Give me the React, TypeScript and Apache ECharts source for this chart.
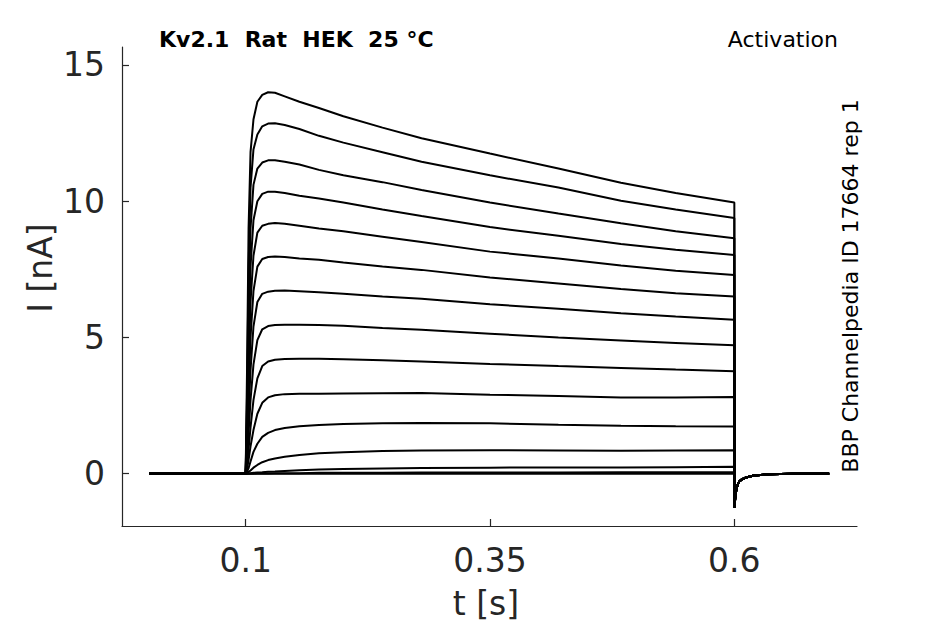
import React, { useEffect, useRef } from "react";
import * as echarts from "echarts";

// Sample times (s) during the pre-step baseline and the depolarising step
const stepTimes = [
  0.0012, 0.1, 0.1015, 0.103, 0.105, 0.108, 0.112, 0.117, 0.123, 0.13, 0.14,
  0.155, 0.175, 0.2, 0.24, 0.28, 0.35, 0.42, 0.484, 0.54, 0.6,
];

// Sample times (s) of the tail after repolarisation
const tailTimes = [0.6001, 0.601, 0.602, 0.6035, 0.605, 0.608, 0.612, 0.62, 0.635, 0.66, 0.697];
const tailValues = [-1.26, -0.85, -0.6, -0.4, -0.29, -0.2, -0.14, -0.07, -0.02, 0, 0];

// Current (nA) of each sweep at stepTimes
const trace1 = [0, 0, 4.0, 9.0, 11.8, 13.0, 13.65, 13.9, 14.0, 13.98, 13.85, 13.65, 13.42, 13.12, 12.7, 12.31, 11.75, 11.2, 10.68, 10.3, 9.95];
const trace2 = [0, 0, 3.0, 7.5, 10.5, 11.9, 12.45, 12.75, 12.85, 12.86, 12.8, 12.65, 12.4, 12.15, 11.8, 11.45, 10.95, 10.5, 10.02, 9.7, 9.38];
const trace3 = [0, 0, 2.5, 6.0, 9.0, 10.6, 11.2, 11.42, 11.5, 11.5, 11.45, 11.35, 11.15, 10.95, 10.7, 10.41, 9.95, 9.55, 9.19, 8.9, 8.64];
const trace4 = [0, 0, 2.0, 4.8, 7.6, 9.3, 10.0, 10.27, 10.35, 10.35, 10.3, 10.2, 10.1, 9.95, 9.7, 9.46, 9.05, 8.73, 8.43, 8.22, 8.03];
const trace5 = [0, 0, 1.6, 3.8, 6.3, 8.0, 8.85, 9.1, 9.17, 9.2, 9.17, 9.1, 9.0, 8.9, 8.7, 8.5, 8.15, 7.9, 7.64, 7.45, 7.29];
const trace6 = [0, 0, 1.2, 2.9, 5.0, 6.7, 7.6, 7.88, 7.95, 7.97, 7.95, 7.9, 7.85, 7.75, 7.6, 7.48, 7.2, 6.98, 6.78, 6.62, 6.5];
const trace7 = [0, 0, 0.9, 2.2, 3.8, 5.4, 6.3, 6.6, 6.68, 6.71, 6.72, 6.7, 6.66, 6.6, 6.5, 6.42, 6.22, 6.05, 5.89, 5.77, 5.65];
const trace8 = [0, 0, 0.6, 1.5, 2.7, 4.0, 4.9, 5.3, 5.42, 5.46, 5.47, 5.47, 5.46, 5.43, 5.35, 5.28, 5.14, 5.0, 4.89, 4.8, 4.71];
const trace9 = [0, 0, 0.35, 0.9, 1.7, 2.7, 3.5, 3.95, 4.12, 4.18, 4.21, 4.22, 4.22, 4.2, 4.16, 4.12, 4.03, 3.95, 3.88, 3.82, 3.76];
const trace10 = [0, 0, 0.2, 0.5, 1.0, 1.6, 2.2, 2.6, 2.8, 2.88, 2.92, 2.93, 2.93, 2.94, 2.95, 2.96, 2.9, 2.85, 2.8, 2.8, 2.81];
const trace11 = [0, 0, 0.08, 0.2, 0.45, 0.8, 1.1, 1.35, 1.5, 1.6, 1.68, 1.74, 1.79, 1.82, 1.85, 1.86, 1.85, 1.8, 1.76, 1.74, 1.73];
const trace12 = [0, 0, 0.02, 0.06, 0.12, 0.22, 0.32, 0.42, 0.5, 0.56, 0.62, 0.69, 0.75, 0.79, 0.83, 0.85, 0.86, 0.85, 0.84, 0.85, 0.86];
const trace13 = [0, 0, 0, 0.01, 0.02, 0.03, 0.04, 0.05, 0.07, 0.08, 0.1, 0.13, 0.15, 0.17, 0.19, 0.21, 0.22, 0.23, 0.23, 0.24, 0.25];
const trace14 = [0, 0, 0, 0, 0, 0, 0.01, 0.01, 0.01, 0.02, 0.02, 0.02, 0.03, 0.03, 0.03, 0.04, 0.04, 0.04, 0.05, 0.05, 0.05];
const trace15 = [0, 0, 0, 0, 0, 0, 0, 0, 0, 0, 0, 0, 0, 0, 0, 0, 0, 0, 0, 0, 0];

const traces = [trace1, trace2, trace3, trace4, trace5, trace6, trace7, trace8, trace9, trace10, trace11, trace12, trace13, trace14, trace15];

const xTicks = [0.1, 0.35, 0.6];
const yTicks = [0, 5, 10, 15];

const titleText = "Kv2.1  Rat  HEK  25 °C";
const protocolText = "Activation";
const sourceText = "BBP Channelpedia ID 17664 rep 1";
const xName = "t [s]";
const yName = "I [nA]";

const FONT = "DejaVu Sans";
const TEXT = "#262626";

export default function App() {
  const ref = useRef<HTMLDivElement>(null);

  useEffect(() => {
    if (!ref.current) return;
    const chart = echarts.init(ref.current, undefined, { renderer: "svg" });

    const series = traces.map((tr) => {
      const data: number[][] = stepTimes.map((t, i) => [t, tr[i]]);
      tailTimes.forEach((t, i) => data.push([t, tailValues[i]]));
      return {
        type: "line",
        data,
        showSymbol: false,
        symbol: "none",
        silent: true,
        lineStyle: { color: "#000", width: 2 },
      };
    });

    chart.setOption({
      animation: false,
      backgroundColor: "#fff",
      grid: { left: 122, right: 88, top: 47, bottom: 98, outerBoundsMode: "none" },
      xAxis: {
        type: "value",
        min: -0.0265,
        max: 0.7255,
        splitLine: { show: false },
        axisLine: { onZero: false, lineStyle: { color: TEXT, width: 1.2 } },
        axisTick: { inside: true, length: 7, lineStyle: { color: TEXT, width: 1.2 }, customValues: xTicks },
        axisLabel: {
          customValues: xTicks,
          color: TEXT,
          fontFamily: FONT,
          fontSize: 33,
          margin: 18,
          formatter: (v: number) => String(v),
        },
      },
      yAxis: {
        type: "value",
        min: -1.92,
        max: 15.66,
        splitLine: { show: false },
        axisLine: { onZero: false, lineStyle: { color: TEXT, width: 1.2 } },
        axisTick: { inside: true, length: 7, lineStyle: { color: TEXT, width: 1.2 }, customValues: yTicks },
        axisLabel: {
          customValues: yTicks,
          color: TEXT,
          fontFamily: FONT,
          fontSize: 33,
          margin: 17,
        },
      },
      graphic: [
        {
          type: "text",
          x: 159,
          y: 39,
          style: { text: titleText, font: `bold 22px "${FONT}"`, fill: "#000", textAlign: "left", textVerticalAlign: "middle" },
        },
        {
          type: "text",
          x: 838,
          y: 39,
          style: { text: protocolText, font: `22px "${FONT}"`, fill: "#000", textAlign: "right", textVerticalAlign: "middle" },
        },
        {
          type: "text",
          x: 850,
          y: 286,
          rotation: Math.PI / 2,
          style: { text: sourceText, font: `22px "${FONT}"`, fill: "#000", textAlign: "center", textVerticalAlign: "middle" },
        },
        {
          type: "text",
          x: 486,
          y: 603,
          style: { text: xName, font: `33px "${FONT}"`, fill: TEXT, textAlign: "center", textVerticalAlign: "middle" },
        },
        {
          type: "text",
          x: 40,
          y: 268,
          rotation: Math.PI / 2,
          style: { text: yName, font: `33px "${FONT}"`, fill: TEXT, textAlign: "center", textVerticalAlign: "middle" },
        },
      ],
      series,
    });

    return () => chart.dispose();
  }, []);

  return <div ref={ref} style={{ position: "absolute", left: 0, top: 0, width: 945, height: 624 }} />;
}
